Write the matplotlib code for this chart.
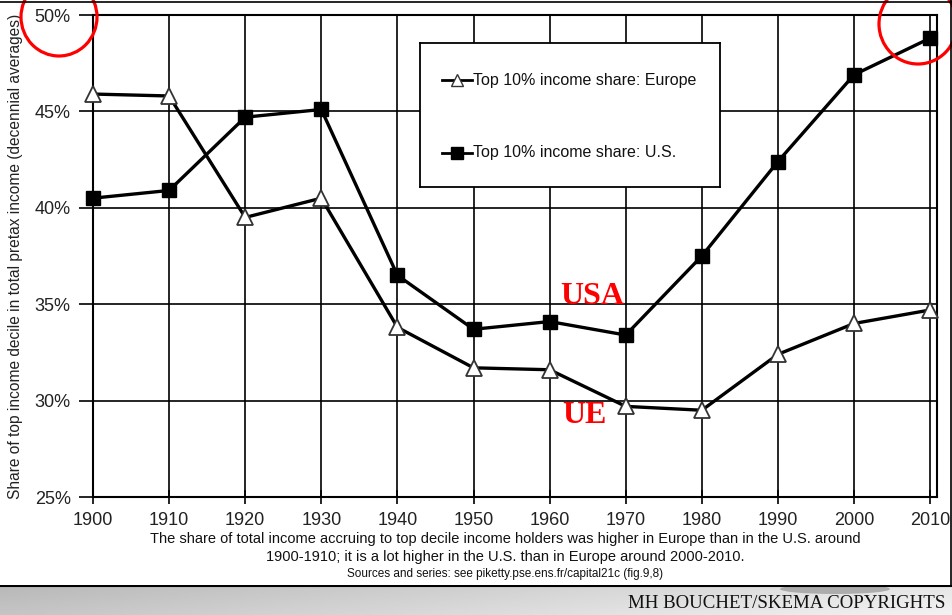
import matplotlib
matplotlib.use("Agg")
import matplotlib.pyplot as plt
import numpy as np
from matplotlib.patches import Ellipse

years = [1900, 1910, 1920, 1930, 1940, 1950, 1960, 1970, 1980, 1990, 2000, 2010]
europe = [45.9, 45.8, 39.5, 40.5, 33.8, 31.7, 31.6, 29.7, 29.5, 32.4, 34.0, 34.7]
usa = [40.5, 40.9, 44.7, 45.1, 36.5, 33.7, 34.1, 33.4, 37.5, 42.4, 46.9, 48.8]
yticks = [25, 30, 35, 40, 45, 50]
ytick_labels = ["25%", "30%", "35%", "40%", "45%", "50%"]
xticks = years
label_eu = "Top 10% income share: Europe"
label_us = "Top 10% income share: U.S."
ylabel = "Share of top income decile in total pretax income (decennial averages)"
caption1 = "The share of total income accruing to top decile income holders was higher in Europe than in the U.S. around"
caption2 = "1900-1910; it is a lot higher in the U.S. than in Europe around 2000-2010."
caption3 = "Sources and series: see piketty.pse.ens.fr/capital21c (fig.9,8)"
footer = "MH BOUCHET/SKEMA COPYRIGHTS"

W, H = 953, 615
fig = plt.figure(figsize=(W / 100, H / 100), dpi=100)
fig.patch.set_facecolor("white")

narrow = ["Liberation Sans Narrow", "Liberation Sans", "DejaVu Sans"]
sans = ["Liberation Sans", "DejaVu Sans"]
serif = ["Liberation Serif", "DejaVu Serif"]

def fx(px):
    return px / W

def fy(py):
    return 1 - py / H

ax = fig.add_axes([fx(93), fy(497), fx(937) - fx(93), fy(15) - fy(497)])
ax.set_xlim(1900, 2010.9)
ax.set_ylim(25, 50)
ax.set_xticks(xticks)
ax.set_yticks(yticks)
ax.set_yticklabels(ytick_labels)
ax.grid(True, color="black", linewidth=1.2)
ax.set_axisbelow(True)
for s in ax.spines.values():
    s.set_linewidth(1.5)
    s.set_color("black")
ax.tick_params(axis="x", direction="inout", length=10, width=1.2, pad=6, labelsize=13)
ax.tick_params(axis="y", direction="out", length=10, width=1.2, pad=6, labelsize=13)
for lab in ax.get_xticklabels() + ax.get_yticklabels():
    lab.set_family(narrow)
    lab.set_color("#222222")

ax.plot(years, europe, color="black", linewidth=2.4, marker="^", markersize=11.5,
        markerfacecolor="white", markeredgecolor="#333333", markeredgewidth=1.3,
        label=label_eu, clip_on=False, zorder=3)
ax.plot(years, usa, color="black", linewidth=2.4, marker="s", markersize=10,
        markerfacecolor="black", markeredgecolor="black",
        label=label_us, clip_on=False, zorder=3)

ax.set_ylabel(ylabel, family=sans, fontsize=11.2, color="#222222")
ax.yaxis.label.set_va("center")
ax.yaxis.set_label_coords((16 - 93) / (937 - 93), (497 - 256) / (497 - 15))

# Legend box drawn manually
leg_ax = fig.add_axes([fx(420), fy(187), fx(720) - fx(420), fy(43) - fy(187)])
leg_ax.set_xlim(0, 300)
leg_ax.set_ylim(144, 0)
leg_ax.set_xticks([])
leg_ax.set_yticks([])
leg_ax.set_facecolor("white")
for s in leg_ax.spines.values():
    s.set_linewidth(1.3)
    s.set_color("black")
leg_ax.plot([22, 52], [37, 37], color="black", linewidth=2)
leg_ax.plot([37], [37], marker="^", markersize=8, markerfacecolor="white",
            markeredgecolor="#333333", color="black")
leg_ax.text(53, 37, label_eu, va="center", ha="left", family=sans, fontsize=11.5, color="#111111")
leg_ax.plot([22, 52], [110, 110], color="black", linewidth=2)
leg_ax.plot([37], [110], marker="s", markersize=8, color="black")
leg_ax.text(53, 110, label_us, va="center", ha="left", family=sans, fontsize=11.5, color="#111111")

# Annotations
ax.text(1965.6, 35.4, "USA", color="red", fontsize=23, fontweight="bold", family=serif,
        ha="center", va="center")
ax.text(1964.6, 29.22, "UE", color="red", fontsize=23, fontweight="bold", family=serif,
        ha="center", va="center")

# Red circles and frame lines
over = fig.add_axes([0, 0, 1, 1], facecolor="none")
over.set_xlim(0, W)
over.set_ylim(H, 0)
over.axis("off")
over.add_patch(Ellipse((59, 17), 76, 78, fill=False, edgecolor="red", linewidth=2.3))
over.add_patch(Ellipse((918, 24), 78, 80, fill=False, edgecolor="red", linewidth=2.3))
over.plot([0, W], [2, 2], color="black", linewidth=1.2)
over.plot([951, 951], [0, 585], color="black", linewidth=1.2)

# Captions
fig.text(fx(505), fy(539), caption1, ha="center", va="center", family=narrow, fontsize=10.5, color="#111111")
fig.text(fx(505), fy(557), caption2, ha="center", va="center", family=narrow, fontsize=10.5, color="#111111")
fig.text(fx(505), fy(574), caption3, ha="center", va="center", family=narrow, fontsize=8.5, color="#111111")

# Footer
foot = fig.add_axes([0, 0, 1, fy(585)])
foot.set_xlim(0, W)
foot.set_ylim(30, 0)
foot.axis("off")
gx = np.linspace(0, 1, 200)
gy = np.linspace(0, 1, 30)
GX, GY = np.meshgrid(gx, gy)
val = 0.72 + 0.18 * GX + 0.05 * GY
foot.imshow(val, cmap="gray", vmin=0, vmax=1, extent=[0, W, 30, 0], aspect="auto")
foot.add_patch(Ellipse((835, 4), 110, 10, color="#888888", alpha=0.6, lw=0))
foot.plot([0, W], [0.5, 0.5], color="black", linewidth=1.5)
foot.text(945, 19, footer, ha="right", va="center", family=serif, fontsize=13.6, color="#111111")

fig.savefig("out.png", dpi=100)
